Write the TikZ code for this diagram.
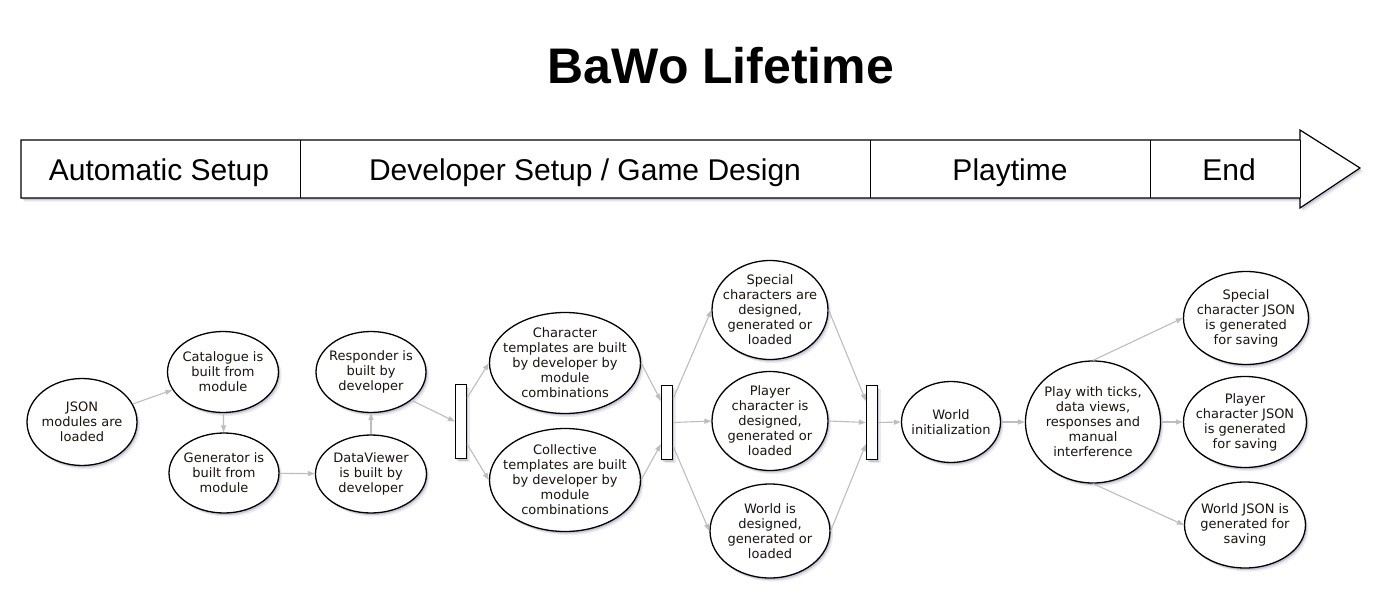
\documentclass[tikz,border=0pt]{standalone}
\usepackage{fontspec}
\setmainfont{DejaVu Sans}
\newfontfamily\arialfont{Liberation Sans}
\usetikzlibrary{shapes.geometric,arrows.meta,shadows,calc}
\definecolor{edgegray}{RGB}{190,190,190}
\definecolor{shadowcol}{RGB}{110,110,150}
\definecolor{txtcol}{RGB}{25,20,15}
\begin{document}
\begin{tikzpicture}[x=1pt,y=-1pt,
  softshadow/.style={drop shadow={shadow xshift=1.5pt,shadow yshift=-2pt,fill=shadowcol,opacity=0.28},
                     drop shadow={shadow xshift=3pt,shadow yshift=-3.5pt,fill=shadowcol,opacity=0.14}},
  ell/.style={ellipse, draw=black, line width=1.3pt, fill=white, inner sep=0pt, softshadow},
  lbl/.style={align=center, font=\fontsize{13}{15}\selectfont, text=txtcol, inner sep=0pt},
  bar/.style={rectangle, draw=black, line width=1.2pt, fill=white, minimum width=11pt, minimum height=74pt, inner sep=0pt, softshadow},
  edge/.style={draw=edgegray, line width=1.1pt, -{Triangle[length=7pt,width=5pt]}},
  bandtxt/.style={font=\arialfont\fontsize{30}{36}\selectfont, anchor=base, inner sep=0pt},
  titletxt/.style={font=\arialfont\bfseries\fontsize{50}{60}\selectfont, inner sep=0pt}
]
\useasboundingbox[fill=white] (0,0) rectangle (1387,610);

% title
\node[titletxt] (title) at (721,66) {BaWo Lifetime};

% timeline band
\draw[line width=1.2pt, fill=white, softshadow]
  (21,140) -- (1300,140) -- (1300,130) -- (1360,168) -- (1300,208) -- (1300,198) -- (21,198) -- cycle;
\draw[line width=1pt] (300,140) -- (300,198) (870,140) -- (870,198) (1150,140) -- (1150,198) (1300,140) -- (1300,198);
\node[bandtxt] (ph1) at (159,180) {Automatic Setup};
\node[bandtxt] (ph2) at (585,180) {Developer Setup / Game Design};
\node[bandtxt] (ph3) at (1010,180) {Playtime};
\node[bandtxt] (ph4) at (1229,180) {End};

% ellipses
\node[ell, minimum width=110pt, minimum height=87pt] (json) at (82,422) {};
\node[lbl] at (json) {JSON\\modules are\\loaded};
\node[ell, minimum width=111pt, minimum height=81pt] (catal) at (223,372) {};
\node[lbl] at (catal) {Catalogue is\\built from\\module};
\node[ell, minimum width=110pt, minimum height=80pt] (gen) at (224,473) {};
\node[lbl] at (gen) {Generator is\\built from\\module};
\node[ell, minimum width=110pt, minimum height=81pt] (resp) at (371,372) {};
\node[lbl] at (resp) {Responder is\\built by\\developer};
\node[ell, minimum width=111pt, minimum height=78pt] (dv) at (371,474) {};
\node[lbl] at (dv) {DataViewer\\is built by\\developer};

\node[bar] (bar1) at (461,421.5) {};

\node[ell, minimum width=151pt, minimum height=101pt] (chart) at (565,363) {};
\node[lbl] at (chart) {Character\\templates are built\\by developer by\\module\\combinations};
\node[ell, minimum width=151pt, minimum height=103pt] (coll) at (565,480) {};
\node[lbl] at (coll) {Collective\\templates are built\\by developer by\\module\\combinations};

\node[bar] (bar2) at (667,422.5) {};

\node[ell, minimum width=116pt, minimum height=99pt] (spec) at (770,310) {};
\node[lbl] at (spec) {Special\\characters are\\designed,\\generated or\\loaded};
\node[ell, minimum width=116pt, minimum height=99pt] (player) at (770,421) {};
\node[lbl] at (player) {Player\\character is\\designed,\\generated or\\loaded};
\node[ell, minimum width=120pt, minimum height=94pt] (world) at (770,531) {};
\node[lbl] at (world) {World is\\designed,\\generated or\\loaded};

\node[bar] (bar3) at (872,422.5) {};

\node[ell, minimum width=99pt, minimum height=81pt] (winit) at (951,422) {};
\node[lbl] at (winit) {World\\initialization};
\node[ell, minimum width=135pt, minimum height=122pt] (play) at (1093,422) {};
\node[lbl] at (play) {Play with ticks,\\data views,\\responses and\\manual\\interference};

\node[ell, minimum width=125pt, minimum height=93pt] (sjson) at (1246,318) {};
\node[lbl] at (sjson) {Special\\character JSON\\is generated\\for saving};
\node[ell, minimum width=123pt, minimum height=91pt] (pjson) at (1245,422) {};
\node[lbl] at (pjson) {Player\\character JSON\\is generated\\for saving};
\node[ell, minimum width=121pt, minimum height=86pt] (wjson) at (1245,525) {};
\node[lbl] at (wjson) {World JSON is\\generated for\\saving};

% connectors
\draw[edge] (json) -- (catal);
\draw[edge] (catal) -- (gen);
\draw[edge] (gen) -- (dv);
\draw[edge] (dv) -- (resp);
\draw[edge] (resp.-35) -- (bar1.west);
\draw[edge] ($(bar1.north east)+(0,14)$) -- (chart.west);
\draw[edge] ($(bar1.south east)+(0,-15)$) -- (coll.west);
\draw[edge] (chart.east) -- ($(bar2.north west)+(0,16)$);
\draw[edge] (coll.east) -- ($(bar2.south west)+(0,-16)$);
\draw[edge] ($(bar2.north east)+(0,14)$) -- (spec.west);
\draw[edge] (bar2.east) -- (player.west);
\draw[edge] ($(bar2.south east)+(0,-14)$) -- (world.west);
\draw[edge] (spec.east) -- ($(bar3.north west)+(0,16)$);
\draw[edge] (player.east) -- (bar3.west);
\draw[edge] (world.east) -- ($(bar3.south west)+(0,-16)$);
\draw[edge] (bar3.east) -- (winit.west);
\draw[edge] (winit.east) -- (play.west);
\draw[edge] (play.north) -- (sjson.west);
\draw[edge] (play.east) -- (pjson.west);
\draw[edge] (play.south) -- (wjson.west);
\end{tikzpicture}
\end{document}
